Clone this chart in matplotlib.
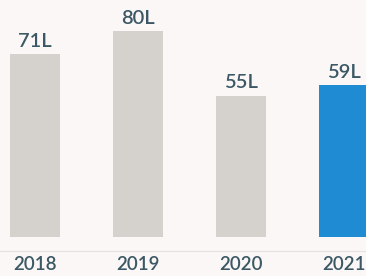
import matplotlib.pyplot as plt

years = ['2018', '2019', '2020', '2021']
values = [71, 80, 55, 59]
labels = ['71L', '80L', '55L', '59L']
colors = ['#d5d2ce', '#d5d2ce', '#d5d2ce', '#1e8bd2']

plt.rcParams['font.family'] = ['Lato', 'DejaVu Sans']

fig = plt.figure(figsize=(3.66, 2.76), dpi=100)
fig.patch.set_facecolor('#fbf7f7')
ax = fig.add_axes([0, 0, 1, 1])
ax.set_facecolor('#fbf7f7')

x = range(len(years))
bars = ax.bar(x, values, width=0.49, color=colors)

for xi, v, lab in zip(x, values, labels):
    ax.annotate(lab, (xi, v), xytext=(0, 3), textcoords='offset points',
                ha='center', va='bottom', fontsize=14.5, color='#3b5864',
                fontweight='semibold')
    ax.text(xi, -10.6, years[xi], ha='center', va='center', fontsize=13.5,
            color='#3b5864', fontweight='semibold')

ax.axhline(-5.6, color='#e6e0e0', lw=0.8, zorder=0)

ax.set_xlim(-0.34, 3.214)
ax.set_ylim(-15.2, 92.2)
ax.axis('off')

fig.savefig('out.png', dpi=100, facecolor=fig.get_facecolor())
